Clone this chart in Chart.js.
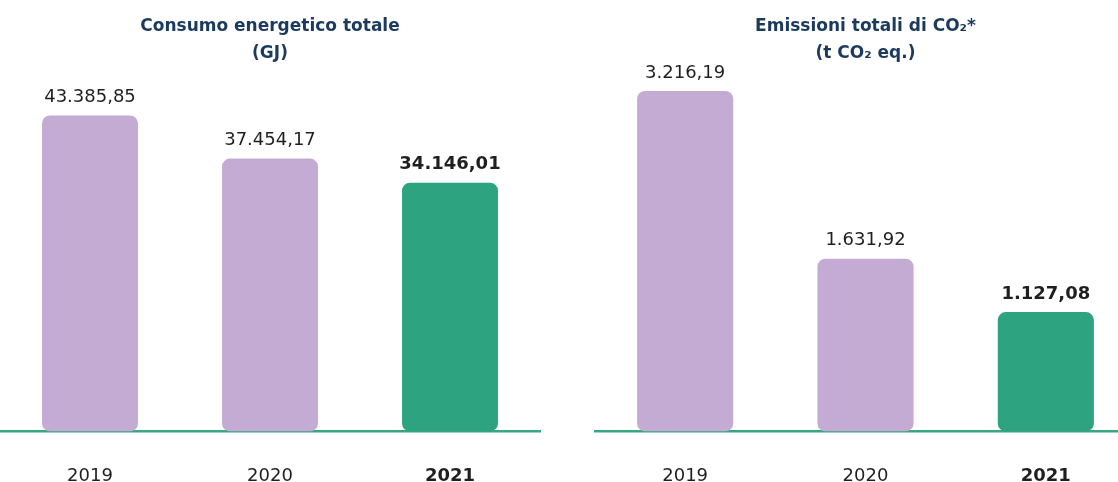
<!DOCTYPE html>
<html>
<head>
<meta charset="utf-8">
<script src="https://cdn.jsdelivr.net/npm/chart.js@4/dist/chart.umd.min.js"></script>
<style>
  html, body { margin: 0; padding: 0; background: #fff; overflow: hidden; }
  #wrap { position: relative; width: 1140px; height: 482px; }
  #box1 { position: absolute; left: 0; top: 0; width: 559px; height: 482px; }
  #box2 { position: absolute; left: 559px; top: 0; width: 581px; height: 482px; }
</style>
</head>
<body>
<div id="wrap">
  <div id="box1"><canvas id="chartEnergia"></canvas></div>
  <div id="box2"><canvas id="chartEmissioni"></canvas></div>
</div>
<script>
const anni = ['2019', '2020', '2021'];
const consumoGJ = [43385.85, 37454.17, 34146.01];
const emissioniCO2 = [3216.19, 1631.92, 1127.08];
const etichetteConsumo = ['43.385,85', '37.454,17', '34.146,01'];
const etichetteEmissioni = ['3.216,19', '1.631,92', '1.127,08'];

// viola per gli anni precedenti, verde per l'anno corrente
const viola = '#c3abd3';
const verde = '#2ea37f';
const coloriBarre = [viola, viola, verde];
const blu = '#1b3a5e';
const testo = '#1f1f1f';
const font = '"DejaVu Sans", "Open Sans", sans-serif';

// scrive il valore sopra ogni barra
const etichettePlugin = {
    id: 'etichette',
    afterDatasetsDraw(chart, args, opts) {
        const ctx = chart.ctx;
        const meta = chart.getDatasetMeta(0);
        ctx.save();
        ctx.textAlign = 'center';
        ctx.textBaseline = 'middle';
        ctx.fillStyle = testo;
        meta.data.forEach((bar, i) => {
            ctx.font = (i === 2 ? 'bold ' : '') + '18px ' + font;
            ctx.fillText(opts.testi[i], bar.x, bar.y - 18);
        });
        ctx.restore();
    }
};

function creaGrafico(id, valori, testi, titolo, maxY, padSx, padDx) {
    return new Chart(document.getElementById(id), {
        type: 'bar',
        data: {
            labels: anni,
            datasets: [{
                data: valori,
                backgroundColor: coloriBarre,
                borderRadius: 8,
                borderSkipped: false,
                barPercentage: 0.533,
                categoryPercentage: 1
            }]
        },
        options: {
            responsive: true,
            maintainAspectRatio: false,
            animation: false,
            layout: { padding: { left: padSx, right: padDx, top: 0, bottom: -39 } },
            plugins: {
                legend: { display: false },
                tooltip: { enabled: false },
                title: {
                    display: true,
                    text: titolo,
                    color: blu,
                    font: { family: font, size: 17, weight: 'bold', lineHeight: 1.6 },
                    padding: { top: 13, bottom: 2 }
                },
                etichette: { testi: testi }
            },
            scales: {
                x: {
                    grid: { display: false, drawTicks: false },
                    border: { display: true, color: '#3ba581', width: 2.5 },
                    ticks: {
                        color: testo,
                        padding: 34,
                        font: (c) => ({ family: font, size: 18, weight: c.index === 2 ? 'bold' : 'normal' })
                    }
                },
                y: {
                    display: false,
                    min: 0,
                    max: maxY
                }
            }
        },
        plugins: [etichettePlugin]
    });
}

creaGrafico('chartEnergia', consumoGJ, etichetteConsumo,
    ['Consumo energetico totale', '(GJ)'], 49700, 0, 19);
creaGrafico('chartEmissioni', emissioniCO2, etichetteEmissioni,
    ['Emissioni totali di CO₂*', '(t CO₂ eq.)'], 3420, 36, 4);
</script>
</body>
</html>
